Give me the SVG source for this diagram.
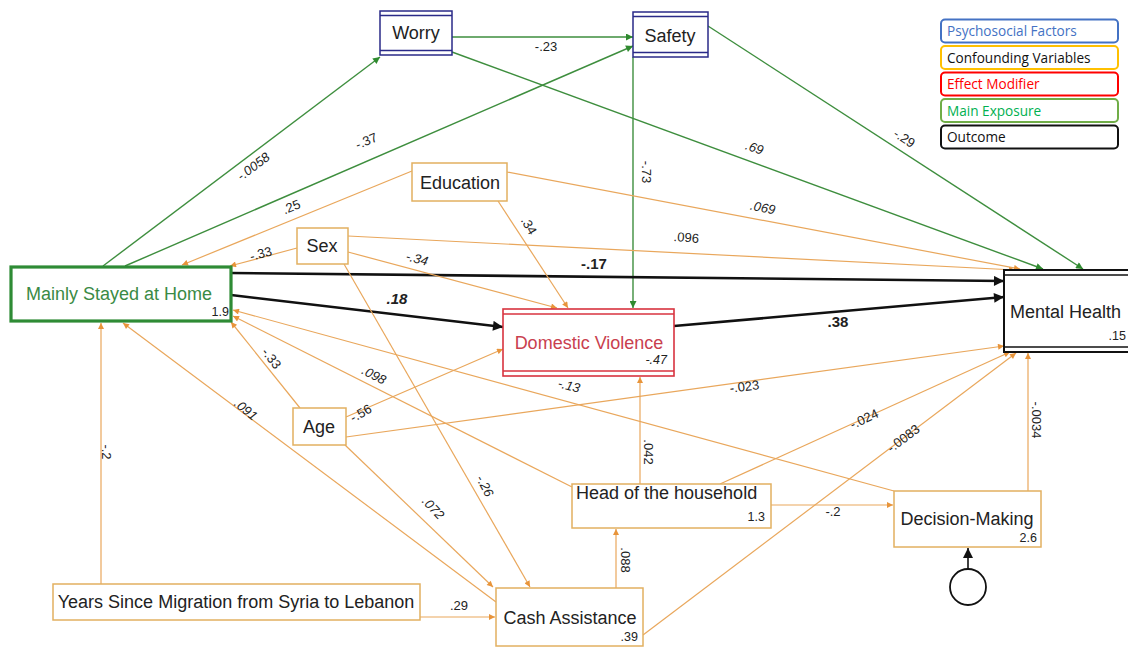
<svg xmlns="http://www.w3.org/2000/svg" width="1128" height="648" viewBox="0 0 1128 648">
  <style>
    text { font-family: "Liberation Sans", Arial, sans-serif; }
    .node { font-size: 18px; fill: #222; }
    .num { font-size: 12.5px; fill: #222; text-anchor: end; }
    .lbl { font-size: 13px; fill: #222; text-anchor: middle; }
    .bold { font-weight: bold; font-size: 15px; }
    .ital { font-style: italic; }
    .leg { font-family: "Open Sans", "Noto Sans", sans-serif; font-size: 13.6px; }
    .e-or { stroke: #E9A75C; stroke-width: 1.2; fill: none; marker-end: url(#ah-or); }
    .e-gr { stroke: #3E8E3E; stroke-width: 1.4; fill: none; marker-end: url(#ah-gr); }
    .e-bk { stroke: #111; stroke-width: 2.6; fill: none; marker-end: url(#ah-bk); }
    .b-or { fill: #fff; stroke: #E2B060; stroke-width: 1.5; }
    .b-nv { fill: #fff; stroke: #2A2A88; stroke-width: 1.5; }
  </style>
  <defs>
    <marker id="ah-or" viewBox="0 0 10 10" refX="10" refY="5" markerWidth="8" markerHeight="6" markerUnits="userSpaceOnUse" orient="auto">
      <path d="M0,0 L10,5 L0,10 z" fill="#E8943A"/>
    </marker>
    <marker id="ah-gr" viewBox="0 0 10 10" refX="10" refY="5" markerWidth="9" markerHeight="7" markerUnits="userSpaceOnUse" orient="auto">
      <path d="M0,0 L10,5 L0,10 z" fill="#2F8A2F"/>
    </marker>
    <marker id="ah-bk" viewBox="0 0 10 10" refX="10" refY="5" markerWidth="14" markerHeight="10" markerUnits="userSpaceOnUse" orient="auto">
      <path d="M0,0 L10,5 L0,10 z" fill="#111"/>
    </marker>
  </defs>
  <rect width="1128" height="648" fill="#fff"/>

  <!-- connectors -->
  <g id="connectors">
    <!-- psychosocial paths -->
    <line class="e-gr" x1="103" y1="266" x2="380" y2="57"/>
    <line class="e-gr" x1="125" y1="266" x2="633" y2="46"/>
    <line class="e-gr" x1="452" y1="37" x2="633" y2="37"/>
    <line class="e-gr" x1="452" y1="52" x2="1043" y2="269"/>
    <line class="e-gr" x1="708" y1="26" x2="1083" y2="269"/>
    <line class="e-gr" x1="633" y1="57" x2="633" y2="308"/>

    <!-- main paths -->
    <line class="e-bk" x1="231" y1="273" x2="1004" y2="281"/>
    <line class="e-bk" x1="231" y1="295" x2="503" y2="327"/>
    <line class="e-bk" x1="674" y1="326" x2="1004" y2="297"/>

    <!-- confounders -->
    <line class="e-or" x1="412" y1="171" x2="182" y2="265"/>
    <line class="e-or" x1="297" y1="248" x2="230" y2="266"/>
    <line class="e-or" x1="507" y1="172" x2="1020" y2="269"/>
    <line class="e-or" x1="348" y1="236" x2="1015" y2="270"/>
    <line class="e-or" x1="498" y1="201" x2="568" y2="308"/>
    <line class="e-or" x1="348" y1="252" x2="557" y2="308"/>
    <line class="e-or" x1="344" y1="264" x2="530" y2="587"/>
    <line class="e-or" x1="300" y1="408" x2="231" y2="322"/>
    <line class="e-or" x1="346" y1="417" x2="503" y2="349"/>
    <line class="e-or" x1="346" y1="437" x2="1004" y2="346"/>
    <line class="e-or" x1="345" y1="445" x2="493" y2="587"/>
    <line class="e-or" x1="496" y1="602" x2="123" y2="323"/>
    <line class="e-or" x1="101" y1="584" x2="101" y2="323"/>
    <line class="e-or" x1="420" y1="617" x2="495" y2="617"/>
    <line class="e-or" x1="572" y1="487" x2="233" y2="316"/>
    <line class="e-or" x1="894" y1="491" x2="233" y2="310"/>
    <line class="e-or" x1="640" y1="484" x2="640" y2="377"/>
    <line class="e-or" x1="720" y1="484" x2="1010" y2="352"/>
    <line class="e-or" x1="771" y1="505" x2="893" y2="505"/>
    <line class="e-or" x1="616" y1="588" x2="616" y2="529"/>
    <line class="e-or" x1="643" y1="635" x2="1016" y2="353"/>
    <line class="e-or" x1="1028" y1="491" x2="1028" y2="353"/>

    <!-- residual -->
    <line x1="968" y1="569" x2="968" y2="548" stroke="#111" stroke-width="1.6" marker-end="url(#ah-bk)"/>

    <!-- path coefficients -->
    <text class="lbl ital" transform="translate(256,170) rotate(-37)">-.0058</text>
    <text class="lbl" transform="translate(368,145) rotate(-23)">-.37</text>
    <text class="lbl" transform="translate(293,211) rotate(-22)">.25</text>
    <text class="lbl" x="546" y="51">-.23</text>
    <text class="lbl ital" transform="translate(753,152) rotate(19)">.69</text>
    <text class="lbl" transform="translate(902,142) rotate(33)">-.29</text>
    <text class="lbl" transform="translate(642,172) rotate(90)">-.73</text>
    <text class="lbl ital" transform="translate(762,212) rotate(11)">.069</text>
    <text class="lbl" transform="translate(686,242) rotate(4)">.096</text>
    <text class="lbl" transform="translate(262,258) rotate(-15)">-.33</text>
    <text class="lbl" transform="translate(525,228) rotate(60)">.34</text>
    <text class="lbl ital" transform="translate(416,263) rotate(14)">-.34</text>
    <text class="lbl bold" x="594" y="269">-.17</text>
    <text class="lbl bold ital" x="397" y="304">.18</text>
    <text class="lbl bold" x="838" y="327">.38</text>
    <text class="lbl" transform="translate(268,361) rotate(52)">-.33</text>
    <text class="lbl ital" transform="translate(372,379) rotate(27)">.098</text>
    <text class="lbl ital" transform="translate(568,390) rotate(14)">-.13</text>
    <text class="lbl" transform="translate(363,417) rotate(-30)">-.56</text>
    <text class="lbl ital" transform="translate(243,413) rotate(40)">.091</text>
    <text class="lbl" transform="translate(745,391) rotate(-7)">-.023</text>
    <text class="lbl" transform="translate(866,423) rotate(-25)">-.024</text>
    <text class="lbl" transform="translate(906,442) rotate(-37)">-.0083</text>
    <text class="lbl" transform="translate(1032,420) rotate(90)">-.0034</text>
    <text class="lbl" transform="translate(644,452) rotate(90)">.042</text>
    <text class="lbl" transform="translate(102,452) rotate(90)">-.2</text>
    <text class="lbl ital" transform="translate(430,511) rotate(47)">.072</text>
    <text class="lbl ital" transform="translate(481,488) rotate(62)">-.26</text>
    <text class="lbl" x="833" y="516">-.2</text>
    <text class="lbl" transform="translate(621,560) rotate(90)">.088</text>
    <text class="lbl" x="459" y="610">.29</text>
  </g>

  <!-- psychosocial factors -->
  <g id="worry">
    <rect class="b-nv" x="380" y="11" width="72" height="44"/>
    <line x1="380" y1="15.5" x2="452" y2="15.5" stroke="#2A2A88" stroke-width="1.5"/>
    <line x1="380" y1="50.5" x2="452" y2="50.5" stroke="#2A2A88" stroke-width="1.5"/>
    <text class="node" x="416" y="39" text-anchor="middle">Worry</text>
  </g>
  <g id="safety">
    <rect class="b-nv" x="633" y="12" width="75" height="45"/>
    <line x1="633" y1="16.5" x2="708" y2="16.5" stroke="#2A2A88" stroke-width="1.5"/>
    <line x1="633" y1="52.5" x2="708" y2="52.5" stroke="#2A2A88" stroke-width="1.5"/>
    <text class="node" x="670" y="42" text-anchor="middle">Safety</text>
  </g>

  <!-- main exposure -->
  <g id="stayed-home">
    <rect x="11" y="267" width="220" height="54" fill="#fff" stroke="#2E8B35" stroke-width="3.2"/>
    <text class="node" x="119" y="300" text-anchor="middle" style="fill:#3A8A45">Mainly Stayed at Home</text>
    <text class="num" x="229" y="316">1.9</text>
  </g>

  <!-- effect modifier -->
  <g id="domestic-violence">
    <rect x="503" y="309" width="171" height="67" fill="#fff" stroke="#D8333F" stroke-width="1.6"/>
    <line x1="503" y1="314" x2="674" y2="314" stroke="#D8333F" stroke-width="1.6"/>
    <line x1="503" y1="371" x2="674" y2="371" stroke="#D8333F" stroke-width="1.6"/>
    <text class="node" x="589" y="349" text-anchor="middle" style="fill:#C9404E">Domestic Violence</text>
    <text class="num ital" x="667" y="364">-.47</text>
  </g>

  <!-- outcome -->
  <g id="mental-health">
    <rect x="1004" y="270" width="130" height="82" fill="#fff" stroke="#111" stroke-width="2"/>
    <line x1="1004" y1="275" x2="1134" y2="275" stroke="#111" stroke-width="1.6"/>
    <line x1="1004" y1="347" x2="1134" y2="347" stroke="#111" stroke-width="1.6"/>
    <text class="node" x="1010" y="318">Mental Health</text>
    <text class="num" x="1126" y="340">.15</text>
  </g>

  <!-- confounding variables -->
  <g id="education">
    <rect class="b-or" x="412" y="163" width="95" height="38"/>
    <text class="node" x="460" y="189" text-anchor="middle">Education</text>
  </g>
  <g id="sex">
    <rect class="b-or" x="297" y="228" width="51" height="36"/>
    <text class="node" x="322" y="252" text-anchor="middle">Sex</text>
  </g>
  <g id="age">
    <rect class="b-or" x="293" y="408" width="53" height="37"/>
    <text class="node" x="319" y="433" text-anchor="middle">Age</text>
  </g>
  <g id="head-of-household">
    <rect class="b-or" x="572" y="484" width="199" height="44"/>
    <text class="node" x="576" y="499">Head of the household</text>
    <text class="num" x="765" y="521">1.3</text>
  </g>
  <g id="decision-making">
    <rect class="b-or" x="894" y="491" width="147" height="56"/>
    <text class="node" x="967" y="525" text-anchor="middle">Decision-Making</text>
    <text class="num" x="1037" y="542">2.6</text>
  </g>
  <g id="residual">
    <circle cx="968" cy="587" r="18" fill="#fff" stroke="#111" stroke-width="1.8"/>
  </g>
  <g id="years-migration">
    <rect class="b-or" x="53" y="584" width="367" height="36"/>
    <text class="node" x="236" y="608" text-anchor="middle">Years Since Migration from Syria to Lebanon</text>
  </g>
  <g id="cash-assistance">
    <rect class="b-or" x="496" y="588" width="147" height="58"/>
    <text class="node" x="570" y="624" text-anchor="middle">Cash Assistance</text>
    <text class="num" x="638" y="641">.39</text>
  </g>

  <!-- legend -->
  <g id="legend">
    <rect x="941" y="19.5" width="177" height="23" rx="4" fill="#fff" stroke="#4472C4" stroke-width="2"/>
    <text class="leg" x="947" y="36" fill="#4472C4">Psychosocial Factors</text>
    <rect x="941" y="46" width="177" height="23" rx="4" fill="#fff" stroke="#FFC000" stroke-width="2"/>
    <text class="leg" x="947" y="62.5" fill="#111">Confounding Variables</text>
    <rect x="941" y="72.5" width="177" height="23" rx="4" fill="#fff" stroke="#FF0000" stroke-width="2"/>
    <text class="leg" x="947" y="89" fill="#FF0000">Effect Modifier</text>
    <rect x="941" y="99" width="177" height="23" rx="4" fill="#fff" stroke="#70AD47" stroke-width="2"/>
    <text class="leg" x="947" y="115.5" fill="#00B050">Main Exposure</text>
    <rect x="941" y="125.5" width="177" height="23" rx="4" fill="#fff" stroke="#111" stroke-width="2"/>
    <text class="leg" x="947" y="142" fill="#111">Outcome</text>
  </g>
</svg>
